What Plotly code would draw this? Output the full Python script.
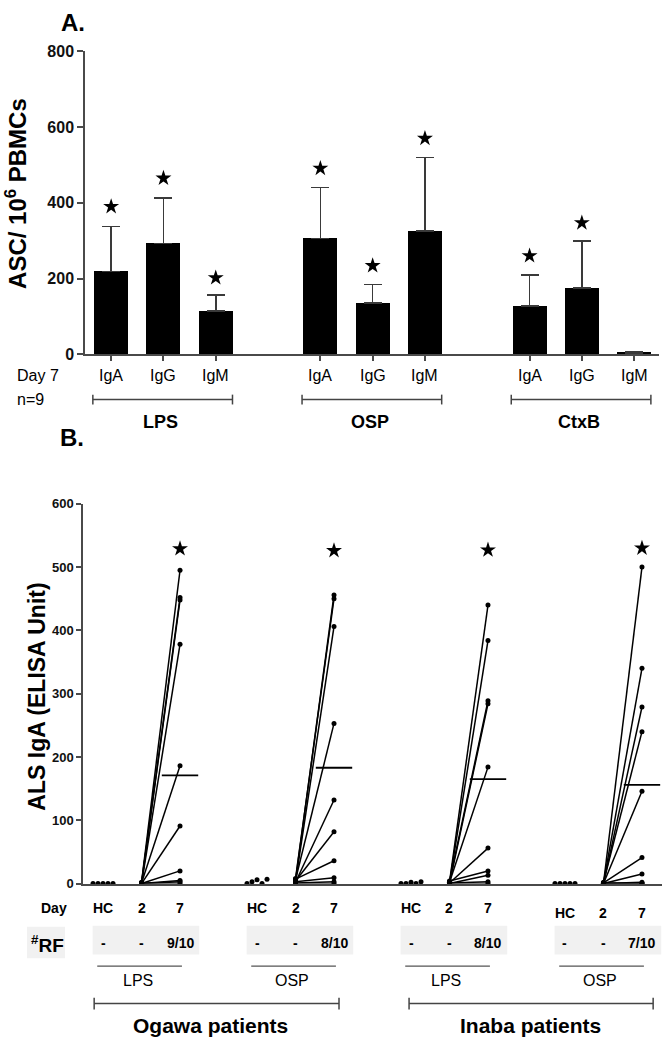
import plotly.graph_objects as go

W, H = 666, 1048

# ---------------- Panel A data ----------------
a_groups = ["LPS", "OSP", "CtxB"]
a_isotypes = ["IgA", "IgG", "IgM"]
a_mean = [218, 293, 114, 306, 135, 325, 128, 175, 4]
a_upper = [338, 413, 156, 441, 184, 519, 209, 299, 6]
a_star = [390, 465, 202, 491, 234, 570, 260, 347, None]
a_yticks = [0, 200, 400, 600, 800]

# ---------------- Panel B data ----------------
b_groups = ["Ogawa LPS", "Ogawa OSP", "Inaba LPS", "Inaba OSP"]
b_hc = [
    [0, 0, 0, 0, 0],
    [0, 3, 6, 0, 7],
    [0, 0, 2, 0, 3],
    [0, 0, 0, 0, 0],
]
b_day2 = [
    [2, 1, 0, 0, 1, 0, 0, 0, 0, 0],
    [5, 8, 3, 6, 2, 4, 7, 3, 1, 0],
    [2, 1, 3, 0, 2, 1, 4, 0, 1, 0],
    [0, 1, 0, 2, 0, 1, 0, 0, 1, 0],
]
b_day7 = [
    [495, 452, 448, 378, 186, 91, 20, 5, 3, 0],
    [456, 450, 406, 253, 132, 82, 36, 9, 3, 0],
    [440, 384, 289, 284, 184, 56, 20, 13, 3, 0],
    [500, 340, 279, 240, 146, 41, 15, 2, 0, 0],
]
b_center = [171, 183, 165, 156]
b_star = [529, 526, 527, 530]
b_rf = ["9/10", "8/10", "8/10", "7/10"]
b_day_labels = ["HC", "2", "7"]
b_antigen = ["LPS", "OSP", "LPS", "OSP"]
b_patients = ["Ogawa patients", "Inaba patients"]
b_yticks = [0, 100, 200, 300, 400, 500, 600]

FONT = "Arial, Liberation Sans, sans-serif"
AX = "#4a4a4a"


def py(p):
    return 1 - p / H


def pxx(p):
    return p / W


fig = go.Figure()

# ---------------- Panel A ----------------
a_pos = [g * 4 + i for g in range(len(a_groups)) for i in range(len(a_isotypes))]
fig.add_trace(go.Bar(
    x=a_pos, y=a_mean, width=0.65, marker=dict(color="black", line=dict(width=0)),
    error_y=dict(type="data", symmetric=False,
                 array=[u - m for u, m in zip(a_upper, a_mean)],
                 arrayminus=[0] * len(a_mean),
                 color="#3a3a3a", thickness=1.5, width=9),
    xaxis="x", yaxis="y", showlegend=False,
))
sx = [p for p, s in zip(a_pos, a_star) if s is not None]
sy = [s for s in a_star if s is not None]
fig.add_trace(go.Scatter(
    x=sx, y=sy, mode="markers", marker=dict(symbol="star", size=12, color="black"),
    xaxis="x", yaxis="y", showlegend=False, cliponaxis=False,
))

# ---------------- Panel B ----------------
hc_off = [-0.26, -0.13, 0, 0.13, 0.26]
for g in range(len(b_groups)):
    base = g * 4
    lx, ly = [], []
    for v2, v7 in zip(b_day2[g], b_day7[g]):
        lx += [base + 1, base + 2, None]
        ly += [v2, v7, None]
    fig.add_trace(go.Scatter(
        x=lx, y=ly, mode="lines+markers",
        line=dict(color="black", width=1.5),
        marker=dict(symbol="circle", size=5, color="black"),
        xaxis="x2", yaxis="y2", showlegend=False, cliponaxis=False,
    ))
    fig.add_trace(go.Scatter(
        x=[base + o for o in hc_off], y=b_hc[g], mode="markers",
        marker=dict(symbol="circle", size=5, color="black"),
        xaxis="x2", yaxis="y2", showlegend=False, cliponaxis=False,
    ))
fig.add_trace(go.Scatter(
    x=[g * 4 + 2 for g in range(len(b_groups))], y=b_center, mode="markers",
    marker=dict(symbol="line-ew", size=26, line=dict(width=1.8, color="black")),
    xaxis="x2", yaxis="y2", showlegend=False, cliponaxis=False,
))
fig.add_trace(go.Scatter(
    x=[g * 4 + 2 for g in range(len(b_groups))], y=b_star, mode="markers",
    marker=dict(symbol="star", size=12, color="black"),
    xaxis="x2", yaxis="y2", showlegend=False, cliponaxis=False,
))

# ---------------- annotations & shapes ----------------
ann = []
shapes = []


def text(t, x, y, xref="paper", size=14, bold=False, xanchor="center", angle=0):
    ann.append(dict(
        text=f"<b>{t}</b>" if bold else t, x=x if xref != "paper" else pxx(x),
        y=py(y), xref=xref, yref="paper", showarrow=False, xanchor=xanchor,
        yanchor="middle", textangle=angle, borderpad=0,
        font=dict(family=FONT, size=size, color="black"),
    ))


def hline(x0, x1, y, xref, color="#444", width=1.5, caps=0):
    shapes.append(dict(type="line", xref=xref, yref="paper", x0=x0, x1=x1,
                       y0=py(y), y1=py(y), line=dict(color=color, width=width)))
    if caps:
        for xx in (x0, x1):
            shapes.append(dict(type="line", xref=xref, yref="paper", x0=xx, x1=xx,
                               y0=py(y - caps), y1=py(y + caps),
                               line=dict(color=color, width=width)))


# Panel A texts
text("A.", 73, 15, size=24, bold=True)
text("ASC/ 10<sup>6</sup> PBMCs", 16, 189, size=24, bold=True, angle=-90)
text("Day 7", 16, 374, size=16, xanchor="left")
text("n=9", 16, 398, size=16, xanchor="left")
for p, lab in zip(a_pos, a_isotypes * len(a_groups)):
    text(lab, p, 374, xref="x", size=16)
for g, lab in enumerate(a_groups):
    hline(g * 4 - 0.35, g * 4 + 2.32, 398, "x", caps=5)
    text(lab, g * 4 + 0.95, 421, xref="x", size=18, bold=True)

# Panel B texts
text("B.", 72, 437, size=24, bold=True)
text("ALS IgA (ELISA Unit)", 37, 700, size=23, bold=True, angle=-90)
text("Day", 54, 915, size=14, bold=True)
shapes.append(dict(type="rect", xref="paper", yref="paper", x0=pxx(27), x1=pxx(65),
                   y0=py(966), y1=py(934), fillcolor="#f1f1f1", line=dict(width=0),
                   layer="below"))
text("<sup>#</sup>RF", 47, 951, size=19, bold=True)
for g in range(len(b_groups)):
    base = g * 4
    dy = 5 if g == 3 else 0
    for k, lab in enumerate(b_day_labels):
        text(lab, base + k, 915 + dy, xref="x2", size=14, bold=True)
    shapes.append(dict(type="rect", xref="x2", yref="paper", x0=base - 0.27,
                       x1=base + 2.5, y0=py(962), y1=py(933),
                       fillcolor="#f1f1f1", line=dict(width=0), layer="below"))
    text("-", base, 950, xref="x2", size=14, bold=True)
    text("-", base + 1, 950, xref="x2", size=14, bold=True)
    text(b_rf[g], base + 2, 950, xref="x2", size=14, bold=True)
    hline(base - 0.15, base + 2.05, 974, "x2", color="#555", width=1.2)
    text(b_antigen[g], base + 0.9, 989, xref="x2", size=16)
pat_x0 = [-0.23, 7.95]
pat_x1 = [6.13, 14.29]
pat_c = [2.8, 11.1]
for i, lab in enumerate(b_patients):
    hline(pat_x0[i], pat_x1[i], 1012, "x2", caps=6)
    text(lab, pat_c[i], 1034, xref="x2", size=21, bold=True)

fig.update_layout(
    width=W, height=H, margin=dict(l=0, r=0, t=0, b=0),
    paper_bgcolor="white", plot_bgcolor="white", showlegend=False,
    font=dict(family=FONT, color="black"),
    annotations=ann, shapes=shapes, bargap=0,
    xaxis=dict(domain=[pxx(85), pxx(659)], range=[-0.5, 10.475], anchor="y",
               showline=True, linecolor=AX, linewidth=1.5, showgrid=False,
               zeroline=False, tickvals=a_pos, ticks="outside", ticklen=5,
               tickwidth=1.5, tickcolor=AX, showticklabels=False, fixedrange=True),
    yaxis=dict(domain=[py(352), py(44)], range=[0, 800], anchor="x",
               showline=True, linecolor=AX, linewidth=1.5, showgrid=False,
               zeroline=False, tickvals=a_yticks, ticks="outside", ticklen=6,
               tickwidth=1.5, tickcolor=AX,
               tickfont=dict(family=FONT, size=16, color="#111", weight="bold")),
    xaxis2=dict(domain=[pxx(83), pxx(662)], range=[-0.52, 14.52], anchor="y2",
                showline=True, linecolor=AX, linewidth=1.5, showgrid=False,
                zeroline=False, showticklabels=False, ticks=""),
    yaxis2=dict(domain=[py(890), py(504)], range=[0, 600], anchor="x2",
                showline=True, linecolor=AX, linewidth=1.5, showgrid=False,
                zeroline=False, tickvals=b_yticks, ticks="outside", ticklen=5,
                tickwidth=1.5, tickcolor=AX,
                tickfont=dict(family=FONT, size=13, color="#111", weight="bold")),
)

fig.write_html("out.html", config={"displayModeBar": False},
               post_script="document.body.style.margin='0px';")
